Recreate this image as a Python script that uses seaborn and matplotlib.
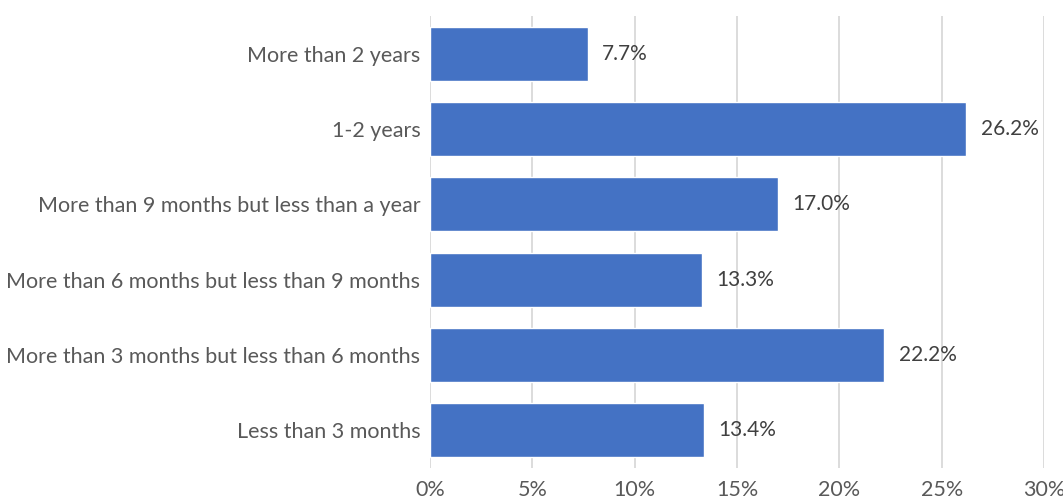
import matplotlib
matplotlib.use("Agg")
import matplotlib.pyplot as plt
import seaborn as sns
import pandas as pd

categories = [
    "More than 2 years",
    "1-2 years",
    "More than 9 months but less than a year",
    "More than 6 months but less than 9 months",
    "More than 3 months but less than 6 months",
    "Less than 3 months",
]
values = [7.7, 26.2, 17.0, 13.3, 22.2, 13.4]
xticks = [0, 5, 10, 15, 20, 25, 30]
xtick_labels = ["0%", "5%", "10%", "15%", "20%", "25%", "30%"]

sns.set_style("white")
plt.rcParams['font.family'] = ['Lato', 'DejaVu Sans']

df = pd.DataFrame({"cat": categories, "val": values})

fig = plt.figure(figsize=(10.63, 5.03), dpi=100)
ax = fig.add_axes([430/1063, 1 - 468/503, (1044-430)/1063, (468-16)/503])
sns.barplot(data=df, y="cat", x="val", orient="h", color="#4472C4",
            saturation=1, width=0.72, ax=ax)
ax.set_xlim(0, 30)
ax.set_ylim(5.5, -0.5)
ax.set_xticks(xticks)
ax.set_xticklabels(xtick_labels)
ax.xaxis.grid(True, color="#D9D9D9", linewidth=1.3)
ax.set_axisbelow(True)
for s in ax.spines.values():
    s.set_visible(False)
ax.set_xlabel("")
ax.set_ylabel("")
ax.tick_params(axis="both", length=0, labelsize=15.5, colors="#595959")
ax.tick_params(axis="x", pad=9)
ax.tick_params(axis="y", pad=7)
for i, v in enumerate(values):
    ax.text(v + 0.7, i, f"{v:.1f}%", va="center", ha="left",
            fontsize=15, color="#404040")
fig.savefig("out.png", dpi=100)
